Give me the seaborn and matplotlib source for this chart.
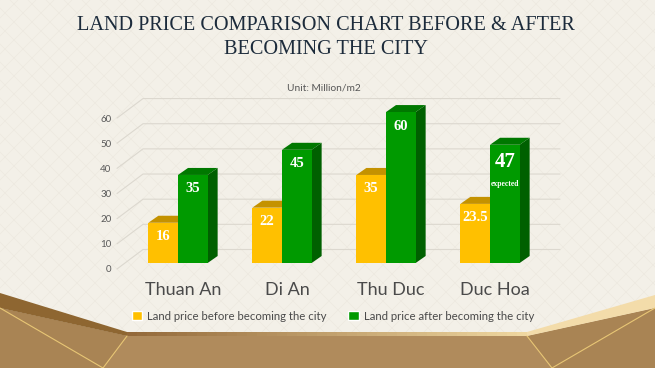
import numpy as np
import pandas as pd
import matplotlib
matplotlib.use("Agg")
import matplotlib.pyplot as plt
from matplotlib.colors import to_rgb
from matplotlib.patches import Polygon, Patch
from matplotlib.lines import Line2D
from matplotlib.transforms import ScaledTranslation
import seaborn as sns

# data (million VND / m2)
cities = ["Thuan An", "Di An", "Thu Duc", "Duc Hoa"]
before = [16, 22, 35, 23.5]
after = [35, 45, 60, 47]
series = ["Land price before becoming the city", "Land price after becoming the city"]
y_ticks = [0, 10, 20, 30, 40, 50, 60]
note_city = "Duc Hoa"
note_text = "expected"

W, H = 655, 368
BG = "#f3f0e8"
YELLOW, YELLOW_TOP = "#FFC000", "#C49200"
GREEN, GREEN_TOP, GREEN_SIDE = "#009A00", "#007800", "#006000"

df = pd.DataFrame({
    "city": cities * 2,
    "price": before + after,
    "period": [series[0]] * len(cities) + [series[1]] * len(cities),
})

sns.set_theme(style="white")
plt.rcParams["font.family"] = ["Lato", "DejaVu Sans"]

fig = plt.figure(figsize=(W / 100, H / 100), dpi=100, facecolor=BG)


def px(x, y):
    # pixel position (from top-left) -> figure fraction
    return (x / W, 1 - y / H)


def fig_poly(pts, **kw):
    fig.add_artist(Polygon([px(*p) for p in pts], closed=True,
                           transform=fig.transFigure, **kw))


def fig_line(a, b, **kw):
    fig.add_artist(Line2D([a[0] / W, b[0] / W], [1 - a[1] / H, 1 - b[1] / H],
                          transform=fig.transFigure, **kw))


# faint lattice in the background
for c in range(-H, W + H, 18):
    fig_line((c, 0), (c + H, H), color="#ede9e0", lw=0.5, zorder=-5)
    fig_line((c, H), (c + H, 0), color="#ede9e0", lw=0.5, zorder=-5)

# bottom gold decoration
fig_poly([(0, 308), (127, 336), (527, 336), (655, 308), (655, 368), (0, 368)],
         facecolor="#b08b5c", edgecolor="none", zorder=1)
fig_poly([(0, 308), (127, 336), (103, 368), (0, 368)],
         facecolor="#a98454", edgecolor="none", zorder=1)
fig_poly([(527, 336), (655, 308), (655, 368), (552, 368)],
         facecolor="#a98454", edgecolor="none", zorder=1)
fig_poly([(0, 293), (127, 332), (127, 336), (0, 308)],
         facecolor="#8e6631", edgecolor="none", zorder=2)
# thin band along the bottom edge, dark brown fading to light gold
c0, c1 = np.array(to_rgb("#93693a")), np.array(to_rgb("#efd7a0"))
edges = np.linspace(127, 527, 41)
for k in range(40):
    t = k / 39
    fig_poly([(edges[k], 332), (edges[k + 1] + 0.5, 332),
              (edges[k + 1] + 0.5, 336), (edges[k], 336)],
             facecolor=c0 + (c1 - c0) * t, edgecolor="none", zorder=2)
fig_poly([(527, 332), (655, 295), (655, 308), (527, 336)],
         facecolor="#f3dcaa", edgecolor="none", zorder=2)
for a, b in [((0, 308), (103, 368)), ((127, 336), (103, 368)),
             ((527, 336), (552, 368)), ((655, 308), (552, 368))]:
    fig_line(a, b, color="#e8c675", lw=0.8, zorder=3)

# axes: value 0 at y=263px, 64 at y=102px; category centers 104px apart
ax = fig.add_axes([117 / W, (H - 263) / H, 443 / W, 161 / H])
ax.set_facecolor("none")
sns.barplot(data=df, x="city", y="price", hue="period", palette=[YELLOW, GREEN],
            saturation=1, width=0.57, errorbar=None, legend=False, ax=ax,
            linewidth=0)

ux = 1 / 104
uy = 64 / 161
ax.set_xlim((117 - 178) * ux, (560 - 178) * ux)
ax.set_ylim(0, 64)

# back-wall grid with perspective lead-ins
wall_x = (143 - 178) * ux
for v in y_ticks:
    ax.plot([ax.get_xlim()[0], wall_x, ax.get_xlim()[1]],
            [v - 6 * uy, v + 13.5 * uy, v + 13.5 * uy],
            color="#dcd8cf", lw=0.8, zorder=1, clip_on=False)

# 3d faces on each bar
dx, dy = 10 * ux, 7 * uy
bars = sorted(ax.patches, key=lambda p: p.get_x())
for i, p in enumerate(bars):
    x, w, h = p.get_x(), p.get_width(), p.get_height()
    is_green = i % 2 == 1
    p.set_zorder(5 if is_green else 3)
    top = [(x, h), (x + w, h), (x + w + dx, h + dy), (x + dx, h + dy)]
    ax.add_patch(Polygon(top, facecolor=GREEN_TOP if is_green else YELLOW_TOP,
                         edgecolor="none", zorder=4.5 if is_green else 2.5))
    if is_green:
        side = [(x + w, 0), (x + w, h), (x + w + dx, h + dy), (x + w + dx, dy)]
        ax.add_patch(Polygon(side, facecolor=GREEN_SIDE, edgecolor="none", zorder=4.5))

    city = cities[i // 2]
    val = after[i // 2] if is_green else before[i // 2]
    big = is_green and city == note_city
    ax.annotate(f"{val:g}", (x + w / 2, h), xytext=(0, -17 if big else -14),
                textcoords="offset pixels", ha="center", va="center",
                color="white", fontweight="bold", family="Liberation Serif",
                fontsize=15 if big else 10.5, zorder=6)
    if big:
        ax.annotate(note_text, (x + w / 2, h), xytext=(0, -39),
                    textcoords="offset pixels", ha="center", va="center",
                    color="white", fontweight="bold", family="Liberation Serif",
                    fontsize=5.5, zorder=6)

ax.set_yticks(y_ticks)
ax.set_yticklabels([str(v) for v in y_ticks])
ax.tick_params(axis="y", length=0, pad=4, labelsize=7, labelcolor="#595959")
ax.tick_params(axis="x", length=0, pad=14, labelsize=13, labelcolor="#4a4a4a")
for lab in ax.get_yticklabels():
    lab.set_transform(lab.get_transform() + ScaledTranslation(0, -0.06, fig.dpi_scale_trans))
for lab in ax.get_xticklabels():
    lab.set_transform(lab.get_transform() + ScaledTranslation(0.05, 0, fig.dpi_scale_trans))
ax.set_xlabel("")
ax.set_ylabel("")
sns.despine(ax=ax, left=True, bottom=True)

handles = [Patch(facecolor=YELLOW), Patch(facecolor=GREEN)]
fig.legend(handles, series, loc="center", bbox_to_anchor=px(333, 316), ncol=2,
           frameon=False, fontsize=8.2, handlelength=0.9, handleheight=0.9,
           columnspacing=1.9, handletextpad=0.45, labelcolor="#4a4a4a")

fig.text(*px(324, 88), "Unit: Million/m2", ha="center", va="center",
         fontsize=7.3, color="#555555")
fig.text(*px(326, 25), "LAND PRICE COMPARISON CHART BEFORE & AFTER", ha="center",
         va="center", family="Liberation Serif", fontsize=14.6, color="#1c2b3b")
fig.text(*px(326, 49), "BECOMING THE CITY", ha="center", va="center",
         family="Liberation Serif", fontsize=14.6, color="#1c2b3b")

fig.savefig("out.png", dpi=100, facecolor=BG)
